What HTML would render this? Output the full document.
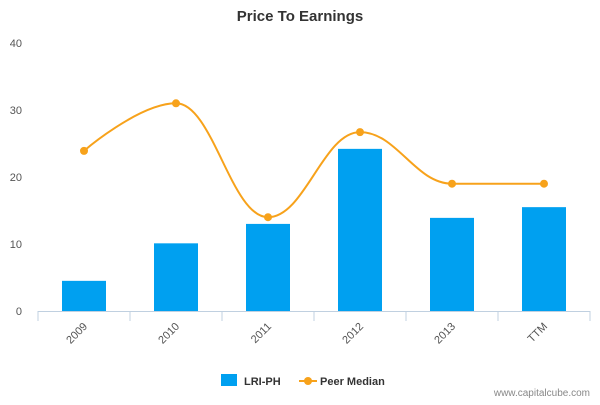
<!DOCTYPE html>
<html><head><meta charset="utf-8"><style>
body{margin:0;background:#fff;font-family:"Liberation Sans",sans-serif}
svg text{font-family:"Liberation Sans",sans-serif}
</style></head><body>
<svg id="chart" width="600" height="400" viewBox="0 0 600 400">
<text x="300" y="21" text-anchor="middle" font-size="15" font-weight="bold" fill="#333">Price To Earnings</text>
<g id="yaxis"></g>
<g id="bars"></g>
<g id="line"></g>
<g id="xaxis"></g>
<g>
<g><rect x="221" y="374" width="16" height="12" fill="#00a0f0"/><text x="244" y="385" font-size="11" font-weight="bold" fill="#333">LRI-PH</text></g>
<g><line x1="299" y1="381" x2="317" y2="381" stroke="#f7a21b" stroke-width="2"/><circle cx="308" cy="381" r="4" fill="#f7a21b"/><text x="320" y="385" font-size="11" font-weight="bold" fill="#333">Peer Median</text></g>
</g>
<text x="590" y="396" text-anchor="end" font-size="10" fill="#888">www.capitalcube.com</text>
</svg>
<script>
const categories=["2009","2010","2011","2012","2013","TTM"];
const barValues=[4.5,10.1,13.0,24.2,13.9,15.5];
const lineValues=[23.9,31.0,14.0,26.7,19.0,19.0];
const yTicks=[0,10,20,30,40];
const NS="http://www.w3.org/2000/svg";
const x0=38,x1=590,y0=311,yTop=43,yMax=40;
const bw=(x1-x0)/categories.length;
const xs=i=>x0+bw*(i+0.5);
const ys=v=>y0-(v/yMax)*(y0-yTop);
function mk(t,a,p){const e=document.createElementNS(NS,t);for(const k in a)e.setAttribute(k,a[k]);p.appendChild(e);return e;}
const ya=document.getElementById('yaxis');
yTicks.forEach(t=>{const e=mk('text',{x:22,y:ys(t)+4,'text-anchor':'end','font-size':11,fill:'#555'},ya);e.textContent=t;

});
const bg=document.getElementById('bars');
barValues.forEach((v,i)=>{const r=mk('rect',{x:xs(i)-22,y:ys(v),width:44,height:y0-ys(v),fill:'#00a0f0'},bg);

});
const xa=document.getElementById('xaxis');
mk('line',{x1:x0,y1:y0+0.5,x2:x1,y2:y0+0.5,stroke:'#c0d0e0'},xa);
for(let i=0;i<=categories.length;i++){mk('line',{x1:x0+bw*i,y1:y0,x2:x0+bw*i,y2:y0+10,stroke:'#c0d0e0'},xa);}
categories.forEach((c,i)=>{const e=mk('text',{x:xs(i)+4,y:y0+16,'text-anchor':'end','font-size':11,fill:'#555',transform:`rotate(-45 ${xs(i)+4} ${y0+16})`},xa);e.textContent=c;

});
const lg=document.getElementById('line');
const pts=lineValues.map((v,i)=>[xs(i),ys(v)]);
const sm=1.5;
let d=`M${pts[0][0]},${pts[0][1]}`;
function ctrl(i){ // returns [left ctrl, right ctrl] Highcharts style
 const p=pts[i],a=pts[i-1],b=pts[i+1];
 if(!a||!b)return [p,p];
 let lx=(sm*p[0]+a[0])/(sm+1),ly=(sm*p[1]+a[1])/(sm+1),rx=(sm*p[0]+b[0])/(sm+1),ry=(sm*p[1]+b[1])/(sm+1);
 let corr=0;if(rx!==lx)corr=((ry-ly)*(rx-p[0]))/(rx-lx)+p[1]-ry;ly+=corr;ry+=corr;
 if(ly>a[1]&&ly>p[1]){ly=Math.max(a[1],p[1]);ry=2*p[1]-ly;}else if(ly<a[1]&&ly<p[1]){ly=Math.min(a[1],p[1]);ry=2*p[1]-ly;}
 if(ry>b[1]&&ry>p[1]){ry=Math.max(b[1],p[1]);ly=2*p[1]-ry;}else if(ry<b[1]&&ry<p[1]){ry=Math.min(b[1],p[1]);ly=2*p[1]-ry;}
 return [[lx,ly],[rx,ry]];}
for(let i=1;i<pts.length;i++){const c1=ctrl(i-1)[1],c2=ctrl(i)[0];d+=` C${c1[0]},${c1[1]} ${c2[0]},${c2[1]} ${pts[i][0]},${pts[i][1]}`;}
const path=mk('path',{d:d,fill:'none',stroke:'#f7a21b','stroke-width':2},lg);


pts.forEach((p,i)=>{const c=mk('circle',{cx:p[0],cy:p[1],r:4,fill:'#f7a21b'},lg);

});
</script>
</body></html>
